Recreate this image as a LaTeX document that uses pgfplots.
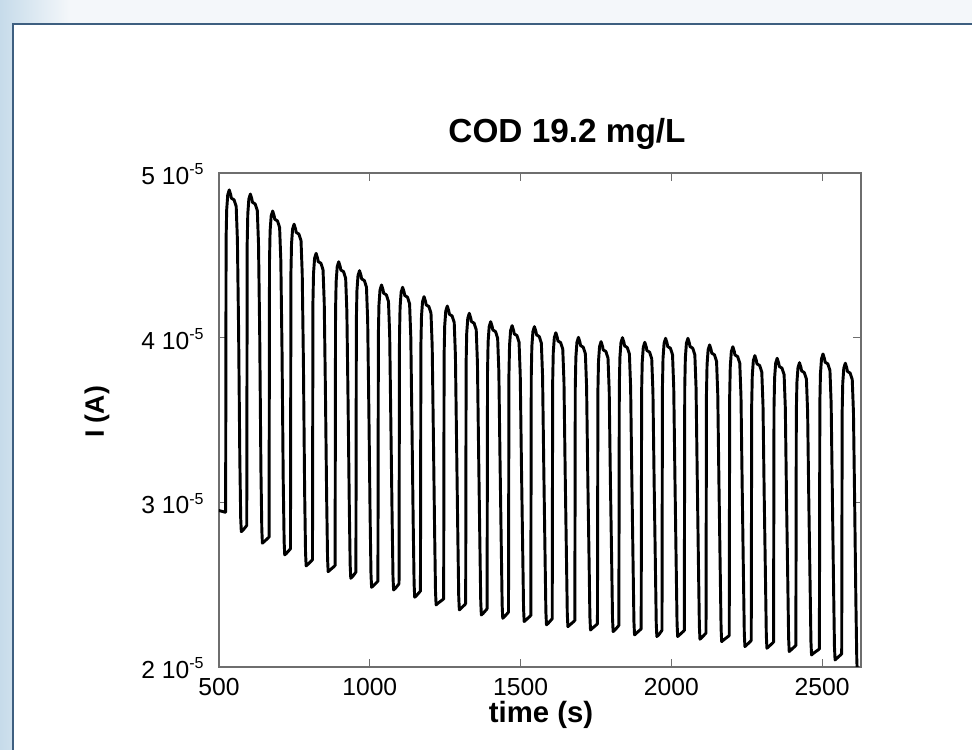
\documentclass[border=0pt]{standalone}
\usepackage{fontspec}
\setmainfont{Liberation Sans}
\usepackage{pgfplots}
\pgfplotsset{compat=1.18}
\definecolor{bordercol}{HTML}{3E5F80}
\definecolor{pagebg}{HTML}{F4F7FA}
\definecolor{leftblue}{HTML}{C6DBEA}
\definecolor{axgray}{HTML}{6E6E6E}
\newcommand{\tenm}[1]{#1 10\raisebox{0.75ex}{\fontsize{12}{12}\selectfont -5}}
\begin{document}
\begin{tikzpicture}[x=0.75pt,y=0.75pt]
\useasboundingbox (0,0) rectangle (972,750);
\begin{scope}
\clip (0,0) rectangle (972,750);
\fill[pagebg] (0,0) rectangle (972,750);
\shade[left color=leftblue, right color=pagebg] (0,0) rectangle (70,750);
\fill[white] (13,-15) rectangle (985,726);
\draw[bordercol, line width=1.5pt] (13,-15) -- (13,726) -- (985,726);
\end{scope}
\begin{axis}[
  at={(164.25pt,62.25pt)}, anchor=south west,
  scale only axis, width=481.5pt, height=370.5pt,
  xmin=500, xmax=2629, ymin=2, ymax=5,
  axis line style={axgray, line width=0.8pt},
  tick style={axgray, line width=0.8pt},
  tick align=inside, tick pos=both,
  major tick length=6pt,
  xtick={500,1000,1500,2000,2500},
  xticklabels={500,1000,1500,2000,2500},
  ytick={2,3,4,5},
  yticklabels={\tenm{2},\tenm{3},\tenm{4},\tenm{5}},
  ticklabel style={font=\fontsize{18.5}{20}\selectfont},
  xticklabel style={yshift=-5pt},
  yticklabel style={xshift=-8pt, yshift=-1pt},
  clip=true,
]
\addplot[black, line width=2.2pt, line join=round, line cap=round] coordinates {
(500,2.95)(521,2.94)
(522,2.94)(523.5,4.597)(525.5,4.777)(529,4.867)(534,4.897)(539,4.867)(541,4.847)(550,4.837)(557,4.797)(561,4.597)(565,4.047)(569,3.272)(572,2.902)(574,2.822)(580,2.832)(591,2.857)
(592,2.857)(593.5,4.572)(595.5,4.752)(599,4.842)(604,4.872)(609,4.842)(611,4.822)(620,4.812)(627,4.772)(631,4.572)(635,4.022)(639,3.202)(642,2.832)(644,2.752)(650,2.762)(665,2.787)
(666,2.787)(667.5,4.469)(669.5,4.649)(673,4.739)(678,4.769)(683,4.739)(685,4.719)(694,4.709)(701,4.669)(705,4.469)(709,3.919)(713,3.131)(716,2.761)(718,2.681)(724,2.691)(736,2.716)
(737,2.716)(738.5,4.389)(740.5,4.569)(744,4.659)(749,4.689)(754,4.659)(756,4.639)(765,4.629)(772,4.589)(776,4.389)(780,3.839)(784,3.064)(787,2.694)(789,2.614)(795,2.624)(809,2.649)
(810,2.649)(811.5,4.212)(813.5,4.392)(817,4.482)(822,4.512)(827,4.482)(829,4.462)(838,4.452)(845,4.412)(849,4.212)(853,3.662)(857,3.029)(860,2.659)(862,2.579)(868,2.589)(884,2.614)
(885,2.614)(886.5,4.161)(888.5,4.341)(892,4.431)(897,4.461)(902,4.431)(904,4.411)(913,4.401)(920,4.361)(924,4.161)(928,3.611)(932,2.989)(935,2.619)(937,2.539)(943,2.549)(953,2.574)
(954,2.574)(955.5,4.107)(957.5,4.287)(961,4.377)(966,4.407)(971,4.377)(973,4.357)(982,4.347)(989,4.307)(993,4.107)(997,3.557)(1001,2.934)(1004,2.564)(1006,2.484)(1012,2.494)(1026,2.519)
(1027,2.519)(1028.5,4.020)(1030.5,4.200)(1034,4.290)(1039,4.320)(1044,4.290)(1046,4.270)(1055,4.260)(1062,4.220)(1066,4.020)(1070,3.470)(1074,2.918)(1077,2.548)(1079,2.468)(1085,2.478)(1096,2.503)
(1097,2.503)(1098.5,4.006)(1100.5,4.186)(1104,4.276)(1109,4.306)(1114,4.276)(1116,4.256)(1125,4.246)(1132,4.206)(1136,4.006)(1140,3.456)(1144,2.874)(1147,2.504)(1149,2.424)(1155,2.434)(1167,2.459)
(1168,2.459)(1169.5,3.949)(1171.5,4.129)(1175,4.219)(1180,4.249)(1185,4.219)(1187,4.199)(1196,4.189)(1203,4.149)(1207,3.949)(1211,3.399)(1215,2.827)(1218,2.457)(1220,2.377)(1226,2.387)(1244,2.412)
(1245,2.412)(1246.5,3.892)(1248.5,4.072)(1252,4.162)(1257,4.192)(1262,4.162)(1264,4.142)(1273,4.132)(1280,4.092)(1284,3.892)(1288,3.342)(1292,2.797)(1295,2.427)(1297,2.347)(1303,2.357)(1317,2.382)
(1318,2.382)(1319.5,3.848)(1321.5,4.028)(1325,4.118)(1330,4.148)(1335,4.118)(1337,4.098)(1346,4.088)(1353,4.048)(1357,3.848)(1361,3.298)(1365,2.766)(1368,2.396)(1370,2.316)(1376,2.326)(1388,2.351)
(1389,2.351)(1390.5,3.797)(1392.5,3.977)(1396,4.067)(1401,4.097)(1406,4.067)(1408,4.047)(1417,4.037)(1424,3.997)(1428,3.797)(1432,3.247)(1436,2.746)(1439,2.376)(1441,2.296)(1447,2.306)(1459,2.331)
(1460,2.331)(1461.5,3.773)(1463.5,3.953)(1467,4.043)(1472,4.073)(1477,4.043)(1479,4.023)(1488,4.013)(1495,3.973)(1499,3.773)(1503,3.223)(1507,2.726)(1510,2.356)(1512,2.276)(1518,2.286)(1533,2.311)
(1534,2.311)(1535.5,3.767)(1537.5,3.947)(1541,4.037)(1546,4.067)(1551,4.037)(1553,4.017)(1562,4.007)(1569,3.967)(1573,3.767)(1577,3.217)(1581,2.706)(1584,2.336)(1586,2.256)(1592,2.266)(1604,2.291)
(1605,2.291)(1606.5,3.730)(1608.5,3.910)(1612,4.000)(1617,4.030)(1622,4.000)(1624,3.980)(1633,3.970)(1640,3.930)(1644,3.730)(1648,3.180)(1652,2.695)(1655,2.325)(1657,2.245)(1663,2.255)(1679,2.280)
(1680,2.280)(1681.5,3.702)(1683.5,3.882)(1687,3.972)(1692,4.002)(1697,3.972)(1699,3.952)(1708,3.942)(1715,3.902)(1719,3.702)(1723,3.152)(1727,2.675)(1730,2.305)(1732,2.225)(1738,2.235)(1754,2.260)
(1755,2.260)(1756.5,3.676)(1758.5,3.856)(1762,3.946)(1767,3.976)(1772,3.946)(1774,3.926)(1783,3.916)(1790,3.876)(1794,3.676)(1798,3.126)(1802,2.665)(1805,2.295)(1807,2.215)(1813,2.225)(1825,2.250)
(1826,2.250)(1827.5,3.700)(1829.5,3.880)(1833,3.970)(1838,4.000)(1843,3.970)(1845,3.950)(1854,3.940)(1861,3.900)(1865,3.700)(1869,3.150)(1873,2.645)(1876,2.275)(1878,2.195)(1884,2.205)(1899,2.230)
(1900,2.230)(1901.5,3.672)(1903.5,3.852)(1907,3.942)(1912,3.972)(1917,3.942)(1919,3.922)(1928,3.912)(1935,3.872)(1939,3.672)(1943,3.122)(1947,2.635)(1950,2.265)(1952,2.185)(1958,2.195)(1968,2.220)
(1969,2.220)(1970.5,3.696)(1972.5,3.876)(1976,3.966)(1981,3.996)(1986,3.966)(1988,3.946)(1997,3.936)(2004,3.896)(2008,3.696)(2012,3.146)(2016,2.635)(2019,2.265)(2021,2.185)(2027,2.195)(2042,2.220)
(2043,2.220)(2044.5,3.696)(2046.5,3.876)(2050,3.966)(2055,3.996)(2060,3.966)(2062,3.946)(2071,3.936)(2078,3.896)(2082,3.696)(2086,3.146)(2090,2.619)(2093,2.249)(2095,2.169)(2101,2.179)(2114,2.204)
(2115,2.204)(2116.5,3.656)(2118.5,3.836)(2122,3.926)(2127,3.956)(2132,3.926)(2134,3.906)(2143,3.896)(2150,3.856)(2154,3.656)(2158,3.106)(2162,2.604)(2165,2.234)(2167,2.154)(2173,2.164)(2191,2.189)
(2192,2.189)(2193.5,3.645)(2195.5,3.825)(2199,3.915)(2204,3.945)(2209,3.915)(2211,3.895)(2220,3.885)(2227,3.845)(2231,3.645)(2235,3.095)(2239,2.574)(2242,2.204)(2244,2.124)(2250,2.134)(2264,2.159)
(2265,2.159)(2266.5,3.591)(2268.5,3.771)(2272,3.861)(2277,3.891)(2282,3.861)(2284,3.841)(2293,3.831)(2300,3.791)(2304,3.591)(2308,3.041)(2312,2.564)(2315,2.194)(2317,2.114)(2323,2.124)(2338,2.149)
(2339,2.149)(2340.5,3.575)(2342.5,3.755)(2346,3.845)(2351,3.875)(2356,3.845)(2358,3.825)(2367,3.815)(2374,3.775)(2378,3.575)(2382,3.025)(2386,2.544)(2389,2.174)(2391,2.094)(2397,2.104)(2412,2.129)
(2413,2.129)(2414.5,3.548)(2416.5,3.728)(2420,3.818)(2425,3.848)(2430,3.818)(2432,3.798)(2441,3.788)(2448,3.748)(2452,3.548)(2456,2.998)(2460,2.523)(2463,2.153)(2465,2.073)(2471,2.083)(2490,2.108)
(2491,2.108)(2492.5,3.601)(2494.5,3.781)(2498,3.871)(2503,3.901)(2508,3.871)(2510,3.851)(2519,3.841)(2526,3.801)(2530,3.601)(2534,3.051)(2538,2.493)(2541,2.123)(2543,2.043)(2549,2.053)(2564,2.078)
(2565,2.078)(2566.5,3.545)(2568.5,3.725)(2572,3.815)(2577,3.845)(2582,3.815)(2584,3.795)(2593,3.785)(2600,3.745)(2604,3.545)(2608,2.995)(2612,2.40)(2615,2.05)(2617,1.95)
};
\end{axis}
\node[font=\bfseries\fontsize{25}{30}\selectfont] at (567,616) {COD 19.2 mg/L};
\node[font=\bfseries\fontsize{22}{26}\selectfont] at (541,35) {time (s)};
\node[font=\bfseries\fontsize{20}{24}\selectfont, rotate=90] at (97,338) {I (A)};
\end{tikzpicture}
\end{document}
